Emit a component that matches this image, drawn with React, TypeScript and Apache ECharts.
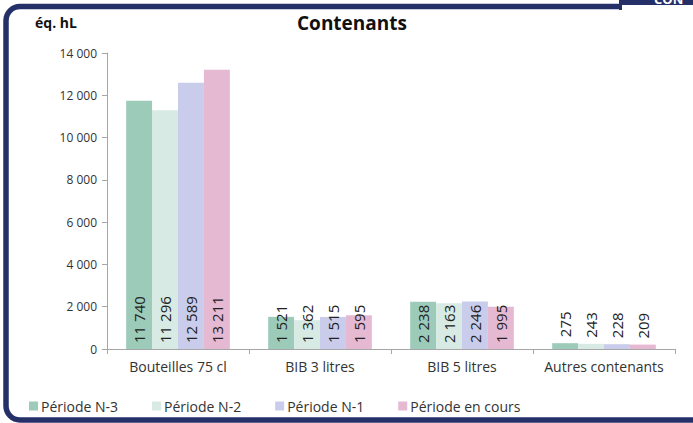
import React, { useEffect, useRef } from "react";
import * as echarts from "echarts";

const categories = ["Bouteilles 75 cl", "BIB 3 litres", "BIB 5 litres", "Autres contenants"];
const seriesNames = ["Période N-3", "Période N-2", "Période N-1", "Période en cours"];
const periodN3 = [11740, 1521, 2238, 275];
const periodN2 = [11296, 1362, 2163, 243];
const periodN1 = [12589, 1515, 2246, 228];
const periodCur = [13211, 1595, 1995, 209];
const colors = ["#9dcbb9", "#d7eae3", "#c9cdeb", "#e6b9d3"];
const yTicks = { min: 0, max: 14000, interval: 2000 };

const FONT = "'Open Sans', 'Noto Sans', sans-serif";
const NAVY = "#253068";

const fmt = (v: number) => String(Math.round(v)).replace(/\B(?=(\d{3})+(?!\d))/g, " ");

export default function App() {
  const ref = useRef<HTMLDivElement>(null);
  useEffect(() => {
    if (!ref.current) return;
    const chart = echarts.init(ref.current, undefined, { renderer: "svg" });
    const all = [periodN3, periodN2, periodN1, periodCur];
    const series = all.map((vals, si) => ({
      name: seriesNames[si],
      type: "bar",
      barGap: "0%",
      barCategoryGap: "27%",
      itemStyle: { color: colors[si] },
      data: vals.map((v) => ({
        value: v,
        label:
          v < 1000
            ? { position: "top", distance: 6 }
            : { position: "insideBottom", distance: 6 },
      })),
      label: {
        show: true,
        rotate: 90,
        align: "left",
        verticalAlign: "middle",
        fontFamily: FONT,
        fontSize: 15,
        color: "#222",
        formatter: (p: any) => fmt(p.value),
      },
    }));
    chart.setOption({
      animation: false,
      textStyle: { fontFamily: FONT },
      grid: { left: 107, right: 18, top: 53, bottom: 74, containLabel: false },
      xAxis: {
        type: "category",
        data: categories,
        axisLine: { show: true, lineStyle: { color: "#a6a6a6", width: 1 } },
        axisTick: { show: true, alignWithLabel: false, length: 5, lineStyle: { color: "#a6a6a6" } },
        axisLabel: { interval: 0, fontFamily: FONT, fontSize: 14, color: "#333", margin: 10 },
      },
      yAxis: {
        type: "value",
        min: yTicks.min,
        max: yTicks.max,
        interval: yTicks.interval,
        splitLine: { show: false },
        axisLine: { show: true, lineStyle: { color: "#a6a6a6", width: 1 } },
        axisTick: { show: true, length: 5, lineStyle: { color: "#a6a6a6" } },
        axisLabel: { fontFamily: FONT, fontSize: 12, color: "#333", margin: 10, formatter: (v: number) => fmt(v) },
      },
      legend: {
        data: seriesNames,
        left: 24,
        top: 394,
        icon: "rect",
        itemWidth: 9,
        itemHeight: 9,
        itemGap: 34,
        textStyle: { fontFamily: FONT, fontSize: 14, color: "#333", padding: [0, 0, 0, -2] },
      },
      graphic: [
        {
          type: "rect",
          shape: { x: 6, y: 6.5, width: 900, height: 413.5, r: 14 },
          style: { fill: "none", stroke: NAVY, lineWidth: 5.5 },
          z: 10,
        },
        { type: "rect", shape: { x: 622, y: 0, width: 80, height: 14 }, style: { fill: "#fff" }, z: 11 },
        { type: "rect", shape: { x: 619, y: 0, width: 80, height: 5 }, style: { fill: NAVY }, z: 12 },
        { type: "rect", shape: { x: 619, y: 0, width: 3, height: 10 }, style: { fill: NAVY }, z: 12 },
        {
          type: "text",
          x: 654,
          y: -8,
          style: { text: "CON", fill: "#fff", font: `bold 13px ${FONT}` },
          z: 13,
        },
        {
          type: "text",
          x: 35,
          y: 22,
          style: { text: "éq. hL", fill: "#111", font: `bold 14px ${FONT}`, verticalAlign: "middle" },
          z: 5,
        },
        {
          type: "text",
          x: 352,
          y: 23,
          style: { text: "Contenants", fill: "#111", font: `bold 19px ${FONT}`, align: "center", verticalAlign: "middle" },
          z: 5,
        },
      ],
      series,
    });
    return () => chart.dispose();
  }, []);
  return (
    <div style={{ position: "fixed", left: 0, top: 0, width: 693, height: 423, background: "#fff", overflow: "hidden" }}>
      <div ref={ref} style={{ width: 693, height: 423 }} />
    </div>
  );
}
